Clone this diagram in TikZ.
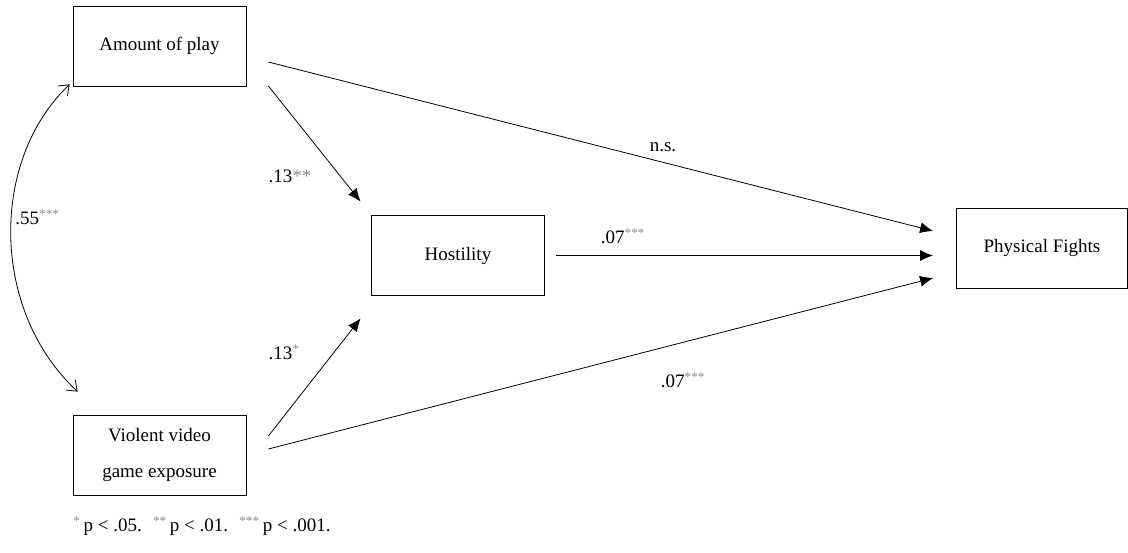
\documentclass[tikz,border=0pt]{standalone}
\usepackage{fontspec}
\setmainfont{Liberation Serif}
\usetikzlibrary{arrows.meta}
\definecolor{stargray}{gray}{0.55}
\newcommand{\sig}[1]{\textsuperscript{\textcolor{stargray}{#1}}}

\begin{document}
\begin{tikzpicture}[x=1pt,y=-1pt,>={Latex[length=13pt,width=11pt]},line width=0.8pt,
  var node/.style={rectangle,draw,minimum width=173pt,minimum height=80pt,align=center,
    font=\fontsize{19}{22}\selectfont},
  coef/.style={inner sep=0pt,font=\fontsize{19}{22}\selectfont}]

  \useasboundingbox (0,0) rectangle (1128,552);

  \node[var node] (amount) at (159.5,46) {Amount of play};
  \node[var node] (violent) at (159.5,455) {Violent video\\[14pt]game exposure};
  \node[var node] (hostility) at (458,255.5) {Hostility};
  \node[var node,minimum width=171pt] (fights) at (1042,248) {Physical Fights};

  % start and end points of the paths
  \coordinate (a-f) at ([shift={(22,16)}]amount.east);
  \coordinate (a-h) at ([shift={(22,40)}]amount.east);
  \coordinate (v-h) at ([shift={(22,-19)}]violent.east);
  \coordinate (v-f) at ([shift={(22,-6)}]violent.east);
  \coordinate (h-f) at ([xshift=11]hostility.east);
  \coordinate (f-a) at ([shift={(-23,-17)}]fights.west);
  \coordinate (f-h) at ([xshift=-23]fights.west);
  \coordinate (f-v) at ([shift={(-23,30)}]fights.west);
  \coordinate (h-a) at ([shift={(-10.5,-13.5)}]hostility.north west);
  \coordinate (h-v) at ([shift={(-10.5,22.5)}]hostility.south west);
  \coordinate (c-top) at ([shift={(-3,-2)}]amount.south west);
  \coordinate (c-bot) at ([shift={(5,-23)}]violent.north west);

  \draw[->] (a-h) -- (h-a);
  \draw[->] (v-h) -- (h-v);
  \draw[->] (a-f) -- (f-a);
  \draw[->] (h-f) -- (h-f -| f-h);
  \draw[->] (v-f) -- (f-v);
  \draw[{Straight Barb[length=9pt,width=14pt]}-{Straight Barb[length=9pt,width=14pt]}]
    (c-top) .. controls (-10,160) and (-10,310) .. (c-bot);

  \node[coef] (c1) at (290,176) {.13\textcolor{stargray}{**}};
  \node[coef,anchor=west] (c2) at (15,217) {.55\sig{***}};
  \node[coef] (c3) at (284,352) {.13\sig{*}};
  \node[coef] (c4) at (663,147) {n.s.};
  \node[coef] (c5) at (623,236) {.07\sig{***}};
  \node[coef] (c6) at (683,380) {.07\sig{***}};
  \node[coef,anchor=west] (note) at (73,526)
    {\sig{*}\,p < .05. \ \sig{**}\,p < .01. \ \sig{***}\,p < .001.};
\end{tikzpicture}
\end{document}
